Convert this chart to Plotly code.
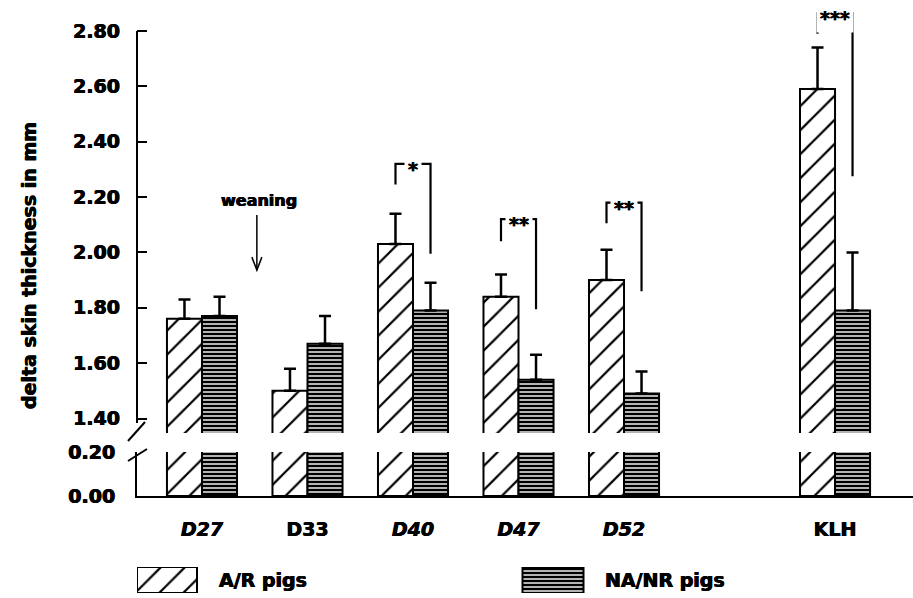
import plotly.graph_objects as go

# ---- data -------------------------------------------------------------
categories = ["D27", "D33", "D40", "D47", "D52", "KLH"]
tick_text = ["<i>D27</i>", "D33", "<i>D40</i>", "<i>D47</i>", "<i>D52</i>", "KLH"]
positions = [0, 1, 2, 3, 4, 6]

ar_mean = [1.76, 1.50, 2.03, 1.84, 1.90, 2.59]
ar_sem = [0.07, 0.08, 0.11, 0.08, 0.11, 0.15]
na_mean = [1.77, 1.67, 1.79, 1.54, 1.49, 1.79]
na_sem = [0.07, 0.10, 0.10, 0.09, 0.08, 0.21]

series_names = ["A/R pigs", "NA/NR pigs"]

# significance brackets between the two groups
sig_index = [2, 3, 4, 5]
sig_label = ["*", "**", "**", "***"]
sig_top = [2.32, 2.12, 2.18, 2.865]
sig_left_end = [2.245, 2.04, 2.105, 2.79]
sig_right_end = [1.995, 1.795, 1.86, 2.275]

upper_ticks = [1.40, 1.60, 1.80, 2.00, 2.20, 2.40, 2.60, 2.80]
lower_ticks = [0.00, 0.20]

# weaning marker (between D27 and D33)
wean_x = 0.52
wean_head = 1.936
wean_tail = 2.135
wean_text_y = 2.186

# ---- geometry ---------------------------------------------------------
W, H = 913, 598
ML = 137
BW = 0.332


def py(p):
    """paper y for a page pixel row"""
    return (H - p) / H


def px(p):
    """paper x for a page pixel column"""
    return (p - ML) / (W - ML)


LOW_DOM = [py(496), py(452)]
LOW_RANGE = [0.0, 0.2]
UP_DOM = [py(433), 1.0]
UP_RANGE = [1.3476, 2.912]


def up_paper(v):
    return UP_DOM[0] + (v - UP_RANGE[0]) / (UP_RANGE[1] - UP_RANGE[0]) * (UP_DOM[1] - UP_DOM[0])


HEAVY = "0.45px 0 0 #000, -0.45px 0 0 #000"
BOLD = dict(family="DejaVu Sans", color="black", weight=700, shadow=HEAVY)
hatch = dict(shape="/", fgcolor="black", fgopacity=1, bgcolor="white",
             size=17, solidity=0.13)
stripe = dict(shape="-", fgcolor="black", fgopacity=1, bgcolor="white",
              size=4, solidity=0.65)
edge = dict(color="black", width=2)

fig = go.Figure()

# bars on both axis segments; error bars only on the upper one
for ax_y, with_err in (("y2", True), ("y", False)):
    fig.add_trace(go.Bar(
        x=positions, y=ar_mean, width=BW, offset=-BW, name=series_names[0],
        xaxis="x", yaxis=ax_y, showlegend=False,
        marker=dict(color="white", pattern=hatch, line=edge),
        error_y=dict(type="data", array=ar_sem, arrayminus=[0] * len(ar_sem),
                     symmetric=False, color="black", thickness=2.5, width=6,
                     visible=with_err),
    ))
    fig.add_trace(go.Bar(
        x=positions, y=na_mean, width=BW, offset=0, name=series_names[1],
        xaxis="x", yaxis=ax_y, showlegend=False,
        marker=dict(color="white", pattern=stripe, line=edge),
        error_y=dict(type="data", array=na_sem, arrayminus=[0] * len(na_sem),
                     symmetric=False, color="black", thickness=2.5, width=6,
                     visible=with_err),
    ))

# significance brackets
annotations = []
for i, lab, top, le, re in zip(sig_index, sig_label, sig_top, sig_left_end, sig_right_end):
    xl = positions[i] - BW / 2
    xr = positions[i] + BW / 2
    fig.add_trace(go.Scatter(
        x=[xl, xl, xr, xr], y=[le, top, top, re], mode="lines",
        line=dict(color="black", width=2.2), xaxis="x", yaxis="y2",
        showlegend=False, hoverinfo="skip",
    ))
    annotations.append(dict(
        x=positions[i], y=top, xref="x", yref="y2", text=lab, showarrow=False,
        font=dict(BOLD, size=19), bgcolor="white", borderpad=3, yshift=-5,
    ))

# legend swatches drawn as bars on their own hidden axes
legend_x = [167, 553]
legend_w = [60, 61]
for name, xc, w, pat in zip(series_names, legend_x, legend_w, (hatch, stripe)):
    fig.add_trace(go.Bar(
        x=[xc], y=[1], width=w, xaxis="x3", yaxis="y3", showlegend=False,
        marker=dict(color="white", pattern=pat, line=dict(color="black", width=2)),
        hoverinfo="skip",
    ))
annotations.append(dict(x=217, y=0.5, xref="x3", yref="y3", text=series_names[0],
                        showarrow=False, xanchor="left", font=dict(BOLD, size=19)))
annotations.append(dict(x=603, y=0.5, xref="x3", yref="y3", text=series_names[1],
                        showarrow=False, xanchor="left", font=dict(BOLD, size=19)))

# axis title
annotations.append(dict(x=px(16), y=py(266), xref="paper", yref="paper",
                        text="delta skin thickness in mm", textangle=-90,
                        showarrow=False, font=dict(BOLD, size=19)))

# weaning label
annotations.append(dict(x=wean_x + 0.02, y=wean_text_y, xref="x", yref="y2",
                        text="weaning", showarrow=False, font=dict(BOLD, size=16)))

shapes = [
    # upper axis segment
    dict(type="line", xref="paper", yref="paper", x0=0, x1=0,
         y0=up_paper(1.384), y1=up_paper(2.80), line=dict(color="black", width=2)),
    # axis break marks
    dict(type="line", xref="paper", yref="paper", x0=px(128), y0=py(441),
         x1=px(145), y1=py(422), line=dict(color="black", width=2)),
    dict(type="line", xref="paper", yref="paper", x0=px(128), y0=py(461),
         x1=px(147), y1=py(449), line=dict(color="black", width=2)),
    # weaning arrow
    dict(type="line", xref="x", yref="y2", x0=wean_x, x1=wean_x,
         y0=wean_tail, y1=wean_head, line=dict(color="black", width=1.5)),
    dict(type="path", xref="x", yref="y2", xsizemode="pixel", ysizemode="pixel",
         xanchor=wean_x, yanchor=wean_head, path="M -5,13 L 0,0 L 5,13",
         line=dict(color="black", width=1.5)),
]

yaxis_common = dict(
    ticks="inside", ticklen=10, tickwidth=2, tickcolor="black",
    showgrid=False, zeroline=False, anchor="x", tickformat=".2f",
    tickfont=dict(BOLD, size=19), ticklabelstandoff=16, automargin=False,
)

fig.update_layout(
    width=W, height=H,
    margin=dict(l=ML, r=0, t=0, b=0, autoexpand=False),
    paper_bgcolor="white", plot_bgcolor="rgba(0,0,0,0)",
    barmode="overlay", showlegend=False,
    xaxis=dict(domain=[0, 1], range=[-0.616, 6.739], anchor="y",
               tickvals=positions, ticktext=tick_text, ticks="",
               showline=True, linecolor="black", linewidth=2,
               showgrid=False, zeroline=False, automargin=False,
               tickfont=dict(BOLD, size=19), ticklabelstandoff=15),
    yaxis=dict(domain=LOW_DOM, range=LOW_RANGE, tickvals=lower_ticks,
               showline=True, linecolor="black", linewidth=2, **yaxis_common),
    yaxis2=dict(domain=UP_DOM, range=UP_RANGE, tickvals=upper_ticks,
                showline=False, **yaxis_common),
    xaxis3=dict(domain=[0, 1], range=[ML, W], anchor="y3", visible=False,
                automargin=False),
    yaxis3=dict(domain=[py(593), py(567)], range=[0, 1], anchor="x3", visible=False,
                automargin=False),
    annotations=annotations,
    shapes=shapes,
)

fig.write_html("out.html")
